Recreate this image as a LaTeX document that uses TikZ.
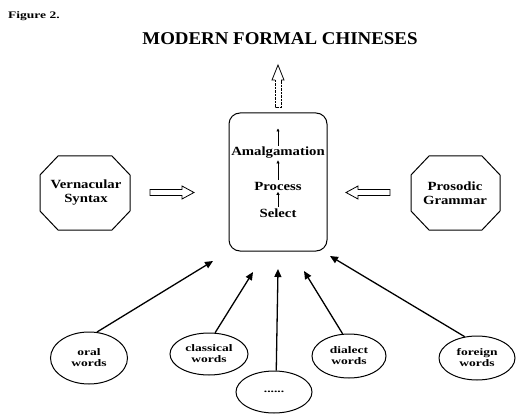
\documentclass[tikz,border=0pt]{standalone}
\usepackage{fontspec}
\setmainfont{Liberation Serif}
\newfontfamily\widefont[FakeStretch=1.18]{Liberation Serif}
\newfontfamily\widerfont[FakeStretch=1.35]{Liberation Serif}
\newfontfamily\titlefont[FakeStretch=1.05]{Liberation Serif}
\usetikzlibrary{arrows.meta,shapes.geometric}
\begin{document}
\begin{tikzpicture}[x=1pt,y=-1pt,
  lbl/.style={font=\widefont\bfseries\fontsize{12.5}{14}\selectfont, align=center, inner sep=0},
  oct/.style={draw, line width=1pt, line join=miter},
  ell/.style={draw, ellipse, line width=1pt, inner sep=0, font=\widerfont\bfseries\fontsize{10}{11}\selectfont, align=center},
  feed/.style={line width=1.3pt, -{Triangle[length=8pt,width=7pt]}},
  tiny/.style={line width=0.8pt, -{Triangle[length=3pt,width=3pt]}, shorten <=1.5pt, shorten >=1.5pt},
  hollow/.style={draw, line width=0.8pt, line join=miter}
]
\useasboundingbox[fill=white] (0,0) rectangle (516,414);

% header
\node[anchor=west, inner sep=0, font=\widerfont\bfseries\fontsize{10}{11}\selectfont] (fig) at (8,16) {Figure 2.};
\node[inner sep=0, font=\titlefont\bfseries\fontsize{18}{20}\selectfont] (title) at (280,39) {MODERN FORMAL CHINESES};

% up hollow arrow (dashed shaft)
\draw[hollow] (275,80) -- (272,80) -- (278,65) -- (284,80) -- (281,80);
\draw[hollow, dash pattern=on 2.5pt off 1pt] (275,80) -- (275,107) -- (281,107) -- (281,80);

% central box
\node[draw, rounded corners=11pt, line width=1pt, minimum width=98pt, minimum height=138pt] (box) at (278,182) {};
\coordinate (top) at (278,127);
\node[lbl] (amal) at (278,153) {Amalgamation};
\node[lbl] (proc) at (278,186) {Process};
\node[lbl] (sel) at (278,213) {Select};
\draw[tiny] (amal.north) -- (top);
\draw[tiny] (proc.north) -- (amal.south);
\draw[tiny] (sel.north) -- (proc.south);

% left octagon
\draw[oct] (40,175) -- (58,156) -- (112,156) -- (130,175) -- (130,211) -- (112,230) -- (58,230) -- (40,211) -- cycle;
\node[lbl] (vern) at (86,193) {Vernacular\\Syntax};
\draw[hollow] (150,189.5) -- (182,189.5) -- (182,186) -- (194,192.5) -- (182,199) -- (182,195.5) -- (150,195.5) -- cycle;

% right octagon
\draw[oct] (411,175) -- (429,156) -- (482,156) -- (500,175) -- (500,211) -- (482,230) -- (429,230) -- (411,211) -- cycle;
\node[lbl] (pros) at (455,193) {Prosodic\\Grammar};
\draw[hollow] (390,189.5) -- (358,189.5) -- (358,186) -- (346,192.5) -- (358,199) -- (358,195.5) -- (390,195.5) -- cycle;

% source ellipses
\node[ell, minimum width=77pt, minimum height=52pt] (oral) at (89,358) {oral\\words};
\node[ell, minimum width=78pt, minimum height=42pt] (clas) at (209,354) {classical\\words};
\node[ell, minimum width=76pt, minimum height=42pt] (mid) at (274,392) {......};
\node[ell, minimum width=74pt, minimum height=44pt] (dial) at (349,356) {dialect\\words};
\node[ell, minimum width=76pt, minimum height=44pt] (forg) at (477,358) {foreign\\words};

\coordinate (t1) at (213,261);
\coordinate (t2) at (253,272);
\coordinate (t3) at (278,269);
\coordinate (t4) at (304,271);
\coordinate (t5) at (330,256);

\draw[feed] (oral.73) -- (t1);
\draw[feed] (clas.74) -- (t2);
\draw[feed] (mid.84) -- (t3);
\draw[feed] (dial.106) -- (t4);
\draw[feed] (forg.120) -- (t5);
\end{tikzpicture}
\end{document}
